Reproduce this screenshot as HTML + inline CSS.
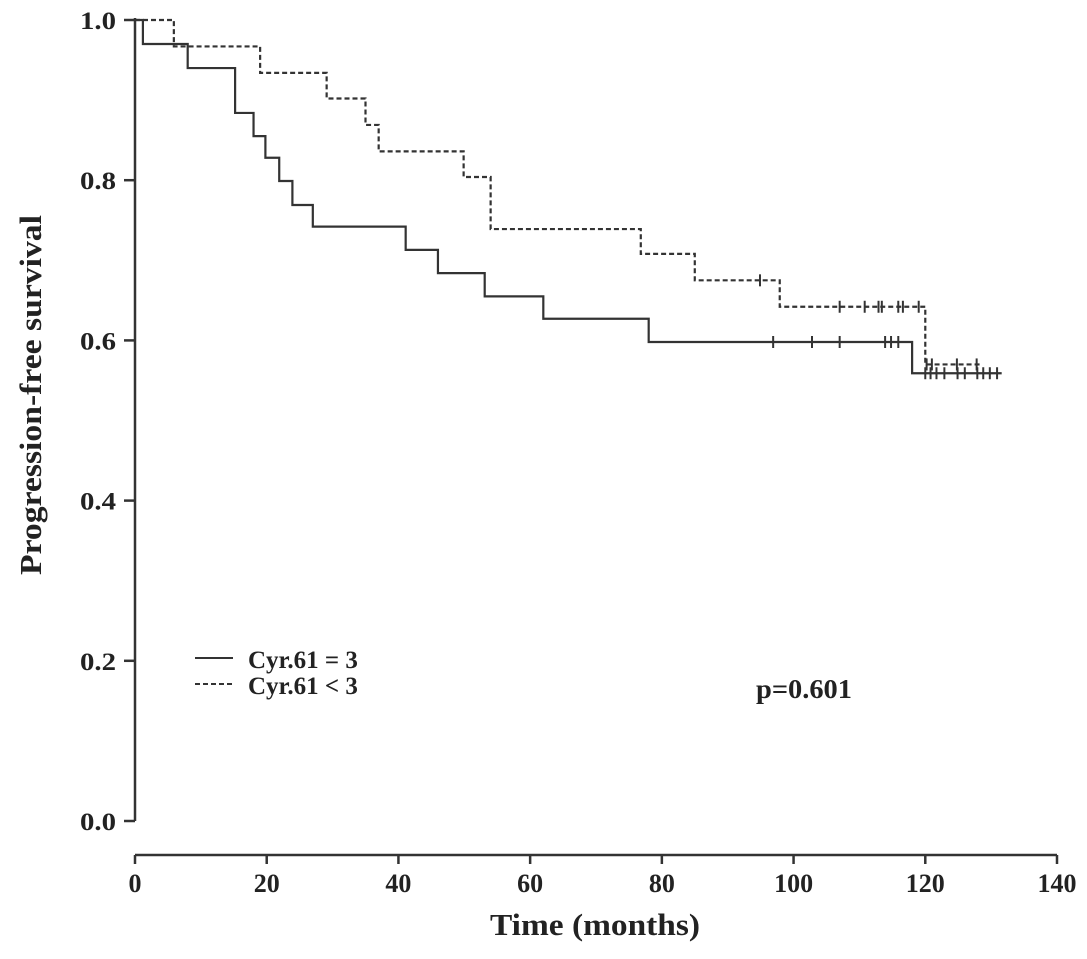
<!DOCTYPE html>
<html><head><meta charset="utf-8"><style>
body{margin:0;background:#fff}
svg text{font-family:"Liberation Serif",serif;font-weight:bold;fill:#222}
</style></head><body>
<svg id="c" width="1087" height="954"></svg>
<script>
const xTicks=[0,20,40,60,80,100,120,140];
const yTicks=[0.0,0.2,0.4,0.6,0.8,1.0];
const highTimes=[0,1.2,8,15.2,18,19.8,21.9,23.9,27,41.1,46,53.1,62,78,118,131.6];
const highSurv=[1.0,0.970,0.940,0.884,0.855,0.828,0.799,0.769,0.742,0.713,0.684,0.655,0.627,0.598,0.559,0.559];
const highCensT=[96.9,102.8,107,113.9,114.8,115.9,120,120.8,121.7,122.9,124.9,126,127.9,128.8,129.8,130.9];
const lowTimes=[0,5.9,19,29.1,35,37,49.9,54,76.8,85,97.9,120,128.3];
const lowSurv=[1.0,0.967,0.934,0.902,0.869,0.836,0.804,0.739,0.708,0.675,0.642,0.570,0.570];
const lowCensT=[94.9,107,110.8,112.9,113.4,115.9,116.6,119,120.2,121,124.8,127.8];
const NS="http://www.w3.org/2000/svg",svg=document.getElementById('c');
const X=t=>135+t*(1057-135)/140, Y=v=>821-v*801;
function mk(tag,a,p){const e=document.createElementNS(NS,tag);for(const k in a)e.setAttribute(k,a[k]);(p||svg).appendChild(e);return e;}
let e;
e=mk('line',{x1:135,y1:18,x2:135,y2:821,stroke:'#333','stroke-width':2.5});


e=mk('line',{x1:135,y1:855,x2:1057,y2:855,stroke:'#333','stroke-width':2.5});


yTicks.forEach(v=>{
 e=mk('line',{x1:124,y1:Y(v),x2:135,y2:Y(v),stroke:'#333','stroke-width':2.5});
 
 
 e=mk('text',{x:116,y:Y(v)+9,'text-anchor':'end','font-size':25,textLength:36,lengthAdjust:'spacingAndGlyphs'});e.textContent=v.toFixed(1);
 
 
});
xTicks.forEach(t=>{
 e=mk('line',{x1:X(t),y1:855,x2:X(t),y2:864,stroke:'#333','stroke-width':2.5});
 
 
 e=mk('text',{x:X(t),y:892,'text-anchor':'middle','font-size':26});e.textContent=t;
 
 
});
function step(ts,ss){let d=`M${X(ts[0])},${Y(ss[0])}`;for(let i=1;i<ts.length;i++){d+=`H${X(ts[i])}V${Y(ss[i])}`;}return d;}
function survAt(ts,ss,t){let v=ss[0];for(let i=0;i<ts.length;i++)if(ts[i]<=t)v=ss[i];return v;}
e=mk('path',{d:step(highTimes,highSurv),fill:'none',stroke:'#333','stroke-width':2.2});


e=mk('path',{d:step(lowTimes,lowSurv),fill:'none',stroke:'#333','stroke-width':2.2,'stroke-dasharray':'5,3'});


highCensT.forEach(t=>{const y=Y(survAt(highTimes,highSurv,t));
 e=mk('line',{x1:X(t),y1:y-6,x2:X(t),y2:y+6,stroke:'#333','stroke-width':2});
 
 });
lowCensT.forEach(t=>{const y=Y(survAt(lowTimes,lowSurv,t));
 e=mk('line',{x1:X(t),y1:y-6,x2:X(t),y2:y+6,stroke:'#333','stroke-width':2});
 
 });
e=mk('text',{x:0,y:0,'font-size':31,'text-anchor':'middle',textLength:360,lengthAdjust:'spacingAndGlyphs',transform:'translate(41,395) rotate(-90)'});e.textContent='Progression-free survival';


e=mk('text',{x:595,y:935,'font-size':31,'text-anchor':'middle',textLength:210,lengthAdjust:'spacingAndGlyphs'});e.textContent='Time (months)';


e=mk('line',{x1:195,y1:658,x2:233,y2:658,stroke:'#333','stroke-width':2});


e=mk('text',{x:248,y:668,'font-size':25});e.textContent='Cyr.61 = 3';


e=mk('line',{x1:195,y1:684,x2:233,y2:684,stroke:'#333','stroke-width':2,'stroke-dasharray':'5,3'});


e=mk('text',{x:248,y:694,'font-size':25});e.textContent='Cyr.61 < 3';


e=mk('text',{x:756,y:698,'font-size':27,textLength:96,lengthAdjust:'spacingAndGlyphs'});e.textContent='p=0.601';


</script>
</body></html>
